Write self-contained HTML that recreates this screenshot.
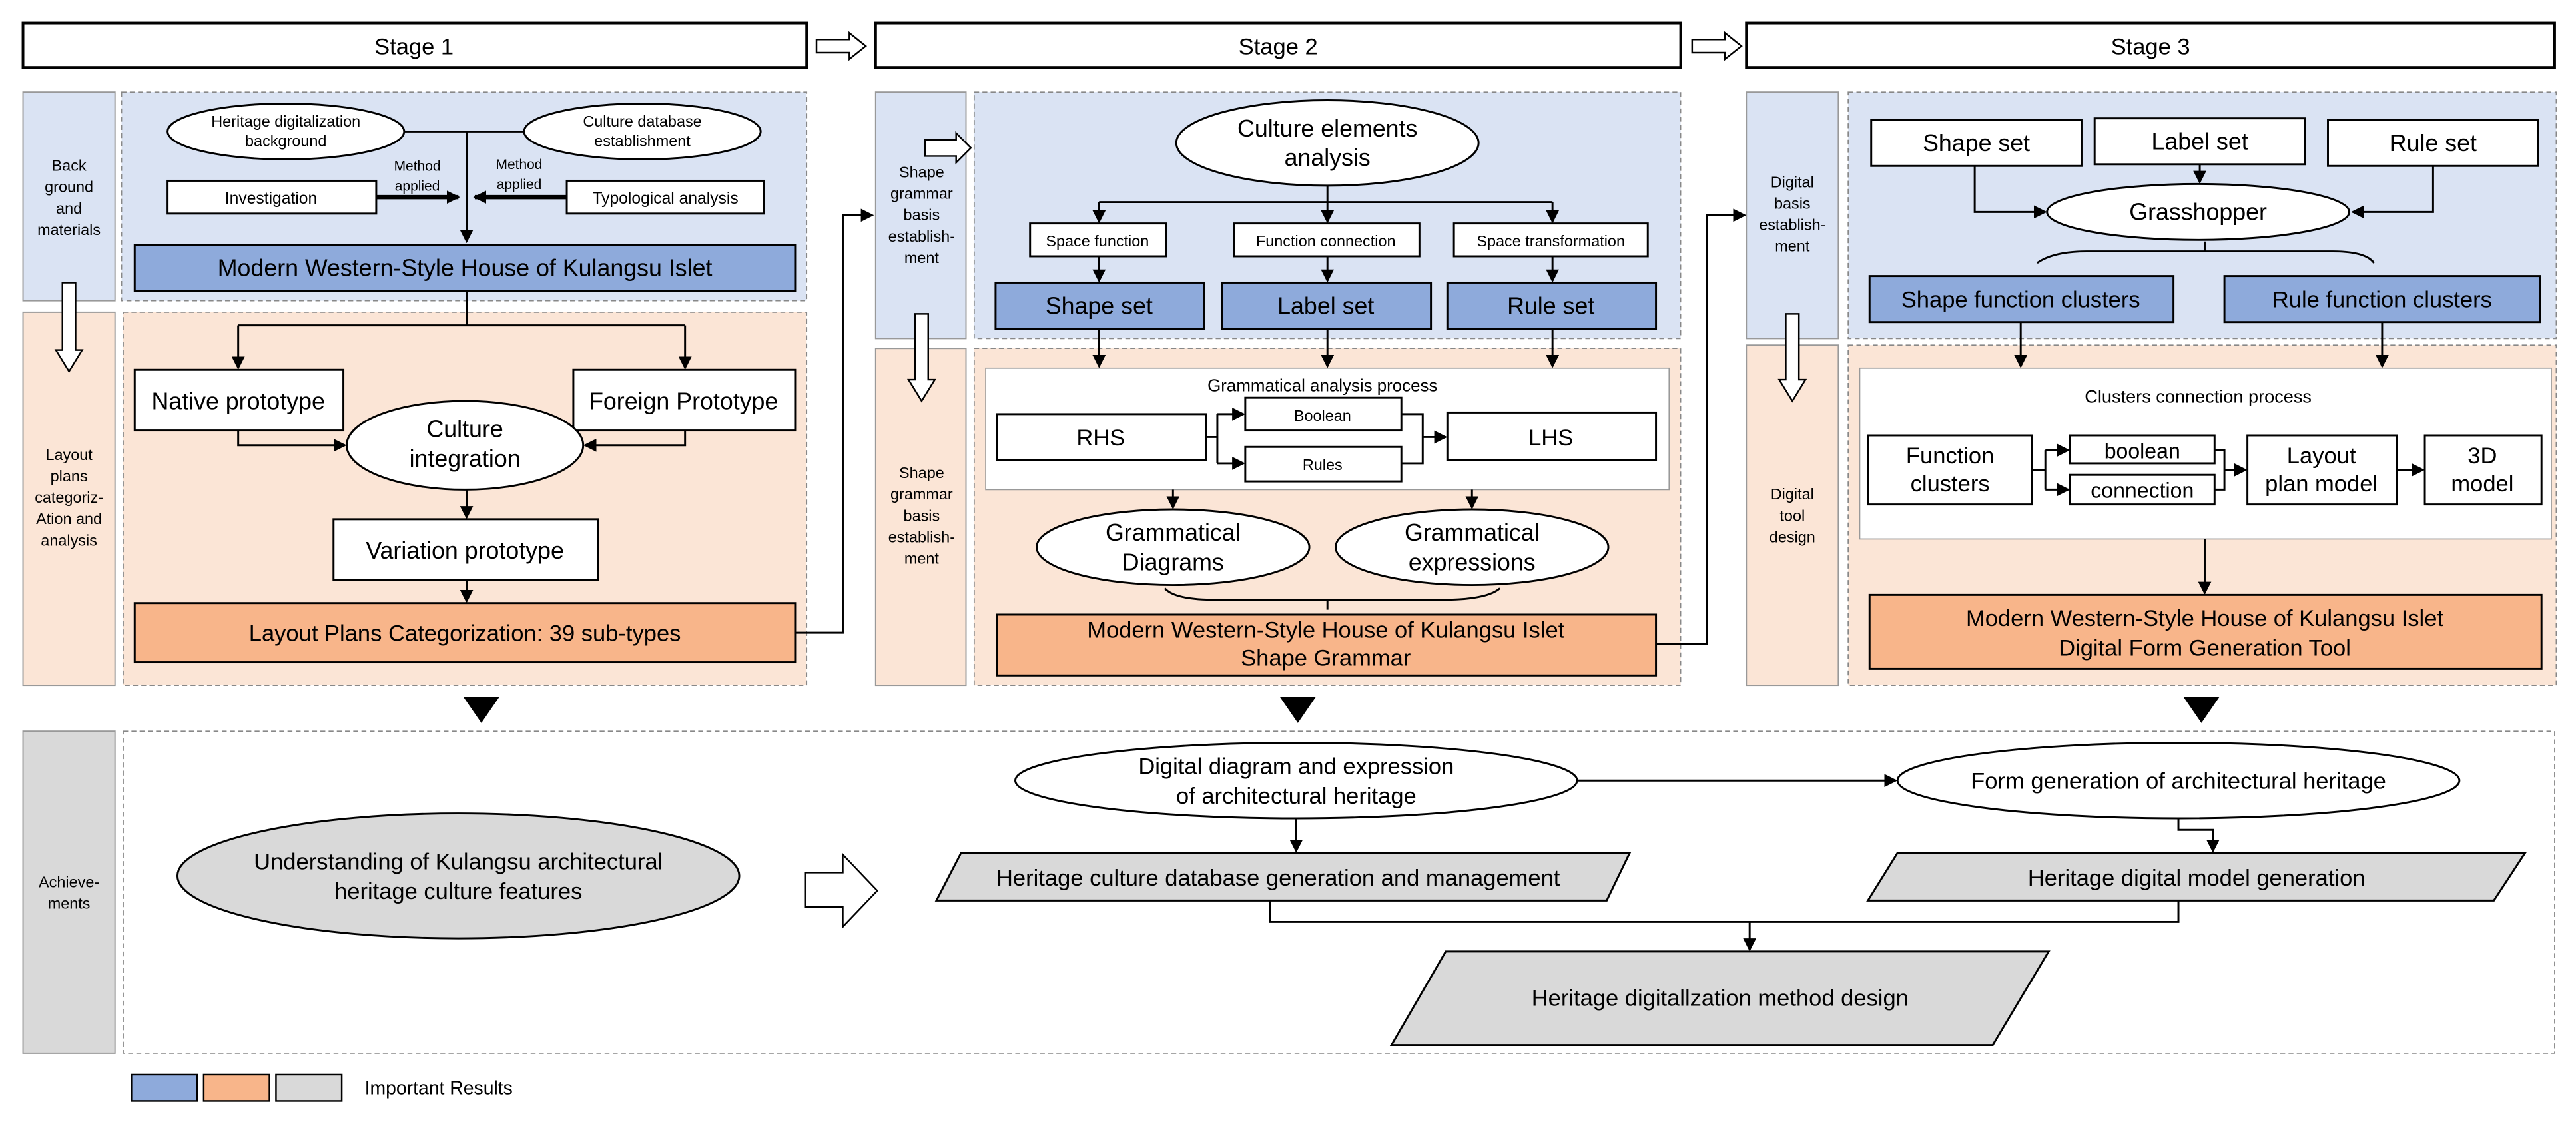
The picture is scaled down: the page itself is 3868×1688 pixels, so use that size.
<!DOCTYPE html>
<html><head><meta charset="utf-8"><style>
html,body{margin:0;padding:0;background:#fff;}
svg{display:block;}
text{font-family:"Liberation Sans",sans-serif;fill:#000;}
</style></head><body>
<svg width="3868" height="1688" viewBox="0 0 1568 684" preserveAspectRatio="none" xmlns="http://www.w3.org/2000/svg">
<defs>
<marker id="a" markerWidth="8" markerHeight="8" refX="7" refY="4" orient="auto" markerUnits="userSpaceOnUse"><path d="M0,0 L8,4 L0,8 z" fill="#000"/></marker>
</defs>
<g stroke="#000" stroke-width="1.3" fill="none">
<!-- stage bars -->
<rect x="14" y="14" width="477" height="27" fill="#fff" stroke-width="1.6"/>
<rect x="533" y="14" width="490" height="27" fill="#fff" stroke-width="1.6"/>
<rect x="1063" y="14" width="492" height="27" fill="#fff" stroke-width="1.6"/>
<path d="M497,24 H517 V20 L527,28 L517,36 V32 H497 Z" fill="#fff" stroke-width="1"/>
<path d="M1030,24 H1050 V20 L1060,28 L1050,36 V32 H1030 Z" fill="#fff" stroke-width="1"/>
</g>
<g font-size="14" text-anchor="middle">
<text x="252" y="33">Stage 1</text>
<text x="778" y="33">Stage 2</text>
<text x="1309" y="33">Stage 3</text>
</g>

<!-- backgrounds -->
<g stroke="#999" stroke-width="0.8">
<rect x="14" y="56" width="56" height="127" fill="#dae3f3"/>
<rect x="14" y="190" width="56" height="227" fill="#fbe5d6"/>
<rect x="533" y="56" width="55" height="150" fill="#dae3f3"/>
<rect x="533" y="212" width="55" height="205" fill="#fbe5d6"/>
<rect x="1063" y="56" width="56" height="150" fill="#dae3f3"/>
<rect x="1063" y="210" width="56" height="207" fill="#fbe5d6"/>
<rect x="14" y="445" width="56" height="196" fill="#d9d9d9"/>
</g>
<g stroke="#888" stroke-width="0.7" stroke-dasharray="3,2">
<rect x="74" y="56" width="417" height="127" fill="#dae3f3"/>
<rect x="75" y="190" width="416" height="227" fill="#fbe5d6"/>
<rect x="593" y="56" width="430" height="150" fill="#dae3f3"/>
<rect x="593" y="212" width="430" height="205" fill="#fbe5d6"/>
<rect x="1125" y="56" width="431" height="150" fill="#dae3f3"/>
<rect x="1125" y="210" width="431" height="207" fill="#fbe5d6"/>
<rect x="75" y="445" width="1480" height="196" fill="#fff"/>
</g>

<!-- left labels -->
<g font-size="9.5" text-anchor="middle">
<text x="42" y="104">Back</text><text x="42" y="117">ground</text><text x="42" y="130">and</text><text x="42" y="143">materials</text>
<text x="42" y="280">Layout</text><text x="42" y="293">plans</text><text x="42" y="306">categoriz-</text><text x="42" y="319">Ation and</text><text x="42" y="332">analysis</text>
<text x="561" y="108">Shape</text><text x="561" y="121">grammar</text><text x="561" y="134">basis</text><text x="561" y="147">establish-</text><text x="561" y="160">ment</text>
<text x="561" y="291">Shape</text><text x="561" y="304">grammar</text><text x="561" y="317">basis</text><text x="561" y="330">establish-</text><text x="561" y="343">ment</text>
<text x="1091" y="114">Digital</text><text x="1091" y="127">basis</text><text x="1091" y="140">establish-</text><text x="1091" y="153">ment</text>
<text x="1091" y="304">Digital</text><text x="1091" y="317">tool</text><text x="1091" y="330">design</text>
<text x="42" y="540">Achieve-</text><text x="42" y="553">ments</text>
</g>
<!-- hollow arrows -->
<g stroke="#000" stroke-width="1" fill="#fff">
<path d="M38,172 H46 V213 H50 L42,226 L34,213 H38 Z"/>
<path d="M557,191 H565 V231 H569 L561,244 L553,231 H557 Z"/>
<path d="M1087,191 H1095 V231 H1099 L1091,244 L1083,231 H1087 Z"/>
<path d="M563,85 H582 V81 L591,90 L582,99 V95 H563 Z"/>
<path d="M490,531 H513 V520 L534,542 L513,564 V552 H490 Z"/>
</g>

<!-- STAGE 1 -->
<g stroke="#000" stroke-width="1.2" fill="#fff">
<ellipse cx="174" cy="80" rx="72" ry="17"/>
<ellipse cx="391" cy="80" rx="72" ry="17"/>
<rect x="102" y="110" width="127" height="20"/>
<rect x="345" y="110" width="120" height="20"/>
<rect x="82" y="149" width="402" height="28" fill="#8eaadb"/>
<rect x="82" y="225" width="127" height="37"/>
<rect x="349" y="225" width="135" height="37"/>
<ellipse cx="283" cy="271" rx="72" ry="27"/>
<rect x="203" y="316" width="161" height="37"/>
<rect x="82" y="367" width="402" height="36" fill="#f8b58a"/>
</g>
<g stroke="#000" stroke-width="1.2" fill="none">
<path d="M246,80 H319"/>
<path d="M284,80 V147" marker-end="url(#a)"/>
<path d="M229,120 H279" stroke-width="2.6" marker-end="url(#a)"/>
<path d="M345,120 H289" stroke-width="2.6" marker-end="url(#a)"/>
<path d="M284,177 V198 M145,198 H417"/>
<path d="M145,198 V224" marker-end="url(#a)"/>
<path d="M417,198 V224" marker-end="url(#a)"/>
<path d="M145,262 V271 H210" marker-end="url(#a)"/>
<path d="M417,262 V271 H356" marker-end="url(#a)"/>
<path d="M284,298 V315" marker-end="url(#a)"/>
<path d="M284,353 V366" marker-end="url(#a)"/>
<path d="M484,385 H513 V131 H531" marker-end="url(#a)"/>
</g>
<g text-anchor="middle">
<text x="174" y="77" font-size="9.5">Heritage digitalization</text>
<text x="174" y="89" font-size="9.5">background</text>
<text x="391" y="77" font-size="9.5">Culture database</text>
<text x="391" y="89" font-size="9.5">establishment</text>
<text x="254" y="104" font-size="8.5">Method</text><text x="254" y="116" font-size="8.5">applied</text>
<text x="316" y="103" font-size="8.5">Method</text><text x="316" y="115" font-size="8.5">applied</text>
<text x="165" y="124" font-size="10">Investigation</text>
<text x="405" y="124" font-size="10">Typological analysis</text>
<text x="283" y="168" font-size="14.5">Modern Western-Style House of Kulangsu Islet</text>
<text x="145" y="249" font-size="14.5">Native prototype</text>
<text x="416" y="249" font-size="14.5">Foreign Prototype</text>
<text x="283" y="266" font-size="14.5">Culture</text>
<text x="283" y="284" font-size="14.5">integration</text>
<text x="283" y="340" font-size="14.5">Variation prototype</text>
<text x="283" y="390" font-size="14">Layout Plans Categorization: 39 sub-types</text>
</g>

<!-- STAGE 2 -->
<g stroke="#000" stroke-width="1.2" fill="#fff">
<ellipse cx="808" cy="87" rx="92" ry="26"/>
<rect x="627" y="136" width="83" height="20"/>
<rect x="751" y="136" width="113" height="20"/>
<rect x="885" y="136" width="118" height="20"/>
<rect x="606" y="172" width="127" height="28" fill="#8eaadb"/>
<rect x="744" y="172" width="127" height="28" fill="#8eaadb"/>
<rect x="881" y="172" width="127" height="28" fill="#8eaadb"/>
<rect x="600" y="224" width="416" height="74" stroke="#999" stroke-width="0.7"/>
<rect x="607" y="252" width="127" height="28"/>
<rect x="758" y="242" width="95" height="20"/>
<rect x="758" y="272" width="95" height="21"/>
<rect x="881" y="251" width="127" height="29"/>
<ellipse cx="714" cy="333" rx="83" ry="23"/>
<ellipse cx="896" cy="333" rx="83" ry="23"/>
<rect x="607" y="374" width="401" height="37" fill="#f8b58a"/>
</g>
<g stroke="#000" stroke-width="1.2" fill="none">
<path d="M808,113 V123 M669,123 H945"/>
<path d="M669,123 V135" marker-end="url(#a)"/>
<path d="M808,123 V135" marker-end="url(#a)"/>
<path d="M945,123 V135" marker-end="url(#a)"/>
<path d="M669,156 V171" marker-end="url(#a)"/>
<path d="M808,156 V171" marker-end="url(#a)"/>
<path d="M945,156 V171" marker-end="url(#a)"/>
<path d="M669,200 V223" marker-end="url(#a)"/>
<path d="M808,200 V223" marker-end="url(#a)"/>
<path d="M945,200 V223" marker-end="url(#a)"/>
<path d="M734,266 H741 M741,252 V282"/>
<path d="M741,252 H757" marker-end="url(#a)"/>
<path d="M741,282 H757" marker-end="url(#a)"/>
<path d="M853,252 H866 V282 H853 M866,266 H880" marker-end="url(#a)"/>
<path d="M714,298 V309" marker-end="url(#a)"/>
<path d="M896,298 V309" marker-end="url(#a)"/>
<path d="M709,358 Q715,365 740,365 H878 Q905,365 913,358 M808,365 V371"/>
<path d="M1008,392 H1039 V131 H1062" marker-end="url(#a)"/>
</g>
<g text-anchor="middle">
<text x="808" y="83" font-size="14.5">Culture elements</text>
<text x="808" y="101" font-size="14.5">analysis</text>
<text x="668" y="150" font-size="9.5">Space function</text>
<text x="807" y="150" font-size="9.5">Function connection</text>
<text x="944" y="150" font-size="9.5">Space transformation</text>
<text x="669" y="191" font-size="14.5">Shape set</text>
<text x="807" y="191" font-size="14.5">Label set</text>
<text x="944" y="191" font-size="14.5">Rule set</text>
<text x="805" y="238" font-size="10.5">Grammatical analysis process</text>
<text x="670" y="271" font-size="14">RHS</text>
<text x="805" y="256" font-size="9.5">Boolean</text>
<text x="805" y="286" font-size="9.5">Rules</text>
<text x="944" y="271" font-size="14">LHS</text>
<text x="714" y="329" font-size="14.5">Grammatical</text>
<text x="714" y="347" font-size="14.5">Diagrams</text>
<text x="896" y="329" font-size="14.5">Grammatical</text>
<text x="896" y="347" font-size="14.5">expressions</text>
<text x="807" y="388" font-size="14">Modern Western-Style House of Kulangsu Islet</text>
<text x="807" y="405" font-size="14">Shape Grammar</text>
</g>

<!-- STAGE 3 -->
<g stroke="#000" stroke-width="1.2" fill="#fff">
<rect x="1139" y="73" width="128" height="28"/>
<rect x="1275" y="72" width="128" height="28"/>
<rect x="1417" y="73" width="128" height="28"/>
<ellipse cx="1338" cy="129" rx="92" ry="17"/>
<rect x="1138" y="168" width="185" height="28" fill="#8eaadb"/>
<rect x="1354" y="168" width="192" height="28" fill="#8eaadb"/>
<rect x="1132" y="224" width="421" height="104" stroke="#999" stroke-width="0.7"/>
<rect x="1137" y="265" width="100" height="42"/>
<rect x="1260" y="265" width="88" height="17"/>
<rect x="1260" y="289" width="88" height="18"/>
<rect x="1368" y="265" width="91" height="42"/>
<rect x="1476" y="265" width="71" height="42"/>
<rect x="1138" y="362" width="409" height="45" fill="#f8b58a"/>
</g>
<g stroke="#000" stroke-width="1.2" fill="none">
<path d="M1339,100 V111" marker-end="url(#a)"/>
<path d="M1202,101 V129 H1245" marker-end="url(#a)"/>
<path d="M1481,101 V129 H1432" marker-end="url(#a)"/>
<path d="M1240,160 Q1250,153 1270,153 H1420 Q1440,153 1445,160 M1342,147 V153"/>
<path d="M1230,196 V223" marker-end="url(#a)"/>
<path d="M1450,196 V223" marker-end="url(#a)"/>
<path d="M1237,286 H1245 M1245,274 V298"/>
<path d="M1245,274 H1259" marker-end="url(#a)"/>
<path d="M1245,298 H1259" marker-end="url(#a)"/>
<path d="M1348,274 H1354 V298 H1348 M1354,286 H1367" marker-end="url(#a)"/>
<path d="M1459,286 H1475" marker-end="url(#a)"/>
<path d="M1342,328 V361" marker-end="url(#a)"/>
</g>
<g text-anchor="middle">
<text x="1203" y="92" font-size="14.5">Shape set</text>
<text x="1339" y="91" font-size="14.5">Label set</text>
<text x="1481" y="92" font-size="14.5">Rule set</text>
<text x="1338" y="134" font-size="14.5">Grasshopper</text>
<text x="1230" y="187" font-size="14">Shape function clusters</text>
<text x="1450" y="187" font-size="14">Rule function clusters</text>
<text x="1338" y="245" font-size="11">Clusters connection process</text>
<text x="1187" y="282" font-size="14">Function</text>
<text x="1187" y="299" font-size="14">clusters</text>
<text x="1304" y="279" font-size="13">boolean</text>
<text x="1304" y="303" font-size="13">connection</text>
<text x="1413" y="282" font-size="14">Layout</text>
<text x="1413" y="299" font-size="14">plan model</text>
<text x="1511" y="282" font-size="14">3D</text>
<text x="1511" y="299" font-size="14">model</text>
<text x="1342" y="381" font-size="14">Modern Western-Style House of Kulangsu Islet</text>
<text x="1342" y="399" font-size="14">Digital Form Generation Tool</text>
</g>

<!-- triangles -->
<g fill="#000">
<path d="M282,424 L304,424 L293,440 Z"/>
<path d="M779,424 L801,424 L790,440 Z"/>
<path d="M1329,424 L1351,424 L1340,440 Z"/>
</g>

<!-- Achievements -->
<g stroke="#000" stroke-width="1.2">
<ellipse cx="279" cy="533" rx="171" ry="38" fill="#d9d9d9"/>
<ellipse cx="789" cy="475" rx="171" ry="23" fill="#fff"/>
<ellipse cx="1326" cy="475" rx="171" ry="23" fill="#fff"/>
<path d="M585,519 H992 L978,548 H570 Z" fill="#d9d9d9"/>
<path d="M1155,519 H1537 L1518,548 H1137 Z" fill="#d9d9d9"/>
<path d="M880,579 H1247 L1213,636 H847 Z" fill="#d9d9d9"/>
</g>
<g stroke="#000" stroke-width="1.2" fill="none">
<path d="M960,475 H1154" marker-end="url(#a)"/>
<path d="M789,498 V518" marker-end="url(#a)"/>
<path d="M1326,498 V505 H1347 V518" marker-end="url(#a)"/>
<path d="M773,548 V561 H1326 V548"/>
<path d="M1065,561 V578" marker-end="url(#a)"/>
</g>
<g text-anchor="middle" font-size="14">
<text x="279" y="529">Understanding of Kulangsu architectural</text>
<text x="279" y="547">heritage culture features</text>
<text x="789" y="471">Digital diagram and expression</text>
<text x="789" y="489">of architectural heritage</text>
<text x="1326" y="480">Form generation of architectural heritage</text>
<text x="778" y="539">Heritage culture database generation and management</text>
<text x="1337" y="539">Heritage digital model  generation</text>
<text x="1047" y="612">Heritage digitallzation method design</text>
</g>

<!-- legend -->
<g stroke="#000" stroke-width="1">
<rect x="80" y="654" width="40" height="16" fill="#8eaadb"/>
<rect x="124" y="654" width="40" height="16" fill="#f8b58a"/>
<rect x="168" y="654" width="40" height="16" fill="#d9d9d9"/>
</g>
<text x="222" y="666" font-size="11.5">Important Results</text>
</svg>
</body></html>
